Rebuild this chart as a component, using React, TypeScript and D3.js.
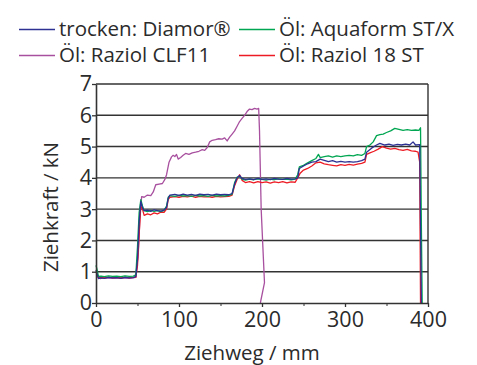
import React, {useEffect, useRef} from "react";
import * as d3 from "d3";

// series: [Ziehweg mm, Ziehkraft kN]
const diamor: [number, number][] = [
  [0, 1.05], [1, 0.95], [3, 0.78], [6, 0.8], [10, 0.79], [15, 0.82], [20, 0.8], [25, 0.81],
  [30, 0.79], [35, 0.82], [40, 0.8], [45, 0.81], [48, 0.85], [50, 1.4], [52, 2.6], [54, 3.25],
  [56, 3.05], [58, 2.95], [62, 2.97], [66, 2.93], [70, 2.98], [74, 2.95], [78, 2.94], [82, 2.97],
  [85, 3.05], [87, 3.35], [89, 3.45], [95, 3.47], [100, 3.44], [105, 3.48], [110, 3.45],
  [115, 3.47], [120, 3.44], [125, 3.48], [130, 3.46], [135, 3.47], [140, 3.45], [145, 3.48],
  [150, 3.46], [155, 3.47], [160, 3.46], [164, 3.5], [167, 3.8], [170, 4.0], [173, 4.08],
  [176, 3.98], [180, 3.95], [185, 3.97], [190, 3.94], [195, 3.98], [200, 3.95], [205, 3.97],
  [210, 3.94], [215, 3.98], [220, 3.96], [225, 3.95], [230, 3.98], [235, 3.96], [240, 3.97],
  [243, 4.0], [245, 4.3], [250, 4.38], [255, 4.45], [260, 4.5], [265, 4.52], [270, 4.6],
  [275, 4.56], [280, 4.52], [285, 4.55], [290, 4.5], [295, 4.53], [300, 4.5], [305, 4.52],
  [310, 4.5], [315, 4.52], [320, 4.55], [324, 4.6], [326, 4.82], [332, 4.95], [338, 5.05],
  [342, 5.1], [348, 5.05], [353, 5.08], [358, 5.04], [363, 5.07], [368, 5.05], [373, 5.08],
  [378, 5.05], [382, 5.15], [385, 5.05], [390, 5.06], [391, 2.5], [392, 0],
];
const aquaform: [number, number][] = [
  [0, 1.2], [1, 1.1], [3, 0.85], [6, 0.86], [10, 0.84], [15, 0.87], [20, 0.85], [25, 0.86],
  [30, 0.84], [35, 0.87], [40, 0.85], [45, 0.86], [48, 0.9], [50, 1.8], [52, 2.9], [54, 3.3],
  [56, 3.1], [58, 2.95], [62, 2.92], [66, 2.96], [70, 2.93], [74, 2.95], [78, 2.92], [82, 2.96],
  [85, 3.1], [87, 3.38], [89, 3.43], [95, 3.41], [100, 3.44], [105, 3.42], [110, 3.43],
  [115, 3.41], [120, 3.44], [125, 3.42], [130, 3.43], [135, 3.41], [140, 3.44], [145, 3.42],
  [150, 3.43], [155, 3.42], [160, 3.44], [164, 3.48], [167, 3.85], [170, 4.02], [173, 4.05],
  [176, 3.96], [180, 3.93], [185, 3.96], [190, 3.94], [195, 3.97], [200, 3.95], [205, 3.93],
  [210, 3.96], [215, 3.94], [220, 3.97], [225, 3.95], [230, 3.96], [235, 3.94], [240, 3.96],
  [243, 4.1], [245, 4.35], [250, 4.4], [255, 4.48], [260, 4.55], [265, 4.62], [268, 4.75],
  [270, 4.65], [275, 4.68], [280, 4.7], [285, 4.66], [290, 4.7], [295, 4.68], [300, 4.7],
  [305, 4.72], [310, 4.7], [315, 4.74], [320, 4.72], [324, 4.78], [326, 5.0], [330, 5.05],
  [334, 5.15], [338, 5.35], [342, 5.38], [346, 5.4], [350, 5.45], [355, 5.5], [360, 5.58],
  [365, 5.55], [370, 5.52], [375, 5.54], [380, 5.52], [385, 5.53], [389, 5.52], [391, 5.6],
  [392, 2.5], [393, 0],
];
const raziol18: [number, number][] = [
  [0, 1.0], [1, 0.95], [3, 0.8], [6, 0.82], [10, 0.8], [15, 0.83], [20, 0.81], [25, 0.82],
  [30, 0.8], [35, 0.83], [40, 0.81], [45, 0.82], [48, 0.83], [50, 1.2], [52, 2.2], [54, 3.1],
  [56, 3.0], [58, 2.8], [62, 2.85], [66, 2.82], [70, 2.88], [74, 2.85], [78, 2.9], [82, 2.9],
  [85, 3.0], [87, 3.3], [89, 3.38], [95, 3.4], [100, 3.38], [105, 3.41], [110, 3.39],
  [115, 3.42], [120, 3.38], [125, 3.41], [130, 3.39], [135, 3.4], [140, 3.38], [145, 3.41],
  [150, 3.39], [155, 3.4], [160, 3.41], [164, 3.45], [167, 3.75], [170, 3.95], [173, 4.1],
  [176, 3.92], [180, 3.85], [185, 3.88], [190, 3.84], [195, 3.88], [200, 3.85], [205, 3.87],
  [210, 3.83], [215, 3.87], [220, 3.85], [225, 3.88], [230, 3.84], [235, 3.87], [240, 3.86],
  [243, 4.0], [246, 4.15], [250, 4.25], [255, 4.3], [260, 4.38], [265, 4.48], [270, 4.5],
  [275, 4.45], [280, 4.42], [285, 4.4], [290, 4.38], [295, 4.42], [300, 4.4], [305, 4.43],
  [310, 4.41], [315, 4.44], [320, 4.46], [324, 4.5], [326, 4.75], [330, 4.8], [335, 4.85],
  [340, 4.92], [345, 5.0], [350, 4.95], [355, 4.92], [360, 4.94], [365, 4.9], [370, 4.88],
  [375, 4.91], [380, 4.86], [385, 4.85], [388, 4.82], [390, 4.5], [391, 0],
];
const raziolClf: [number, number][] = [
  [0, 1.0], [2, 0.85], [5, 0.78], [10, 0.8], [20, 0.79], [30, 0.8], [40, 0.79], [48, 0.82],
  [51, 1.6], [53, 2.8], [55, 3.4], [58, 3.38], [62, 3.45], [66, 3.43], [69, 3.55], [72, 3.78],
  [76, 3.8], [80, 3.82], [83, 3.95], [85, 4.1], [88, 4.5], [91, 4.67], [93, 4.72], [95, 4.68],
  [97, 4.75], [99, 4.6], [102, 4.65], [105, 4.72], [108, 4.78], [112, 4.75], [116, 4.8],
  [120, 4.82], [124, 4.85], [128, 4.9], [131, 4.88], [134, 4.97], [137, 5.15], [140, 5.2],
  [144, 5.22], [148, 5.25], [152, 5.24], [155, 5.28], [158, 5.18], [161, 5.3], [164, 5.4],
  [167, 5.5], [170, 5.65], [173, 5.8], [176, 5.9], [179, 6.0], [182, 6.12], [185, 6.2],
  [188, 6.18], [191, 6.22], [194, 6.2], [196, 6.22], [197, 5.5], [199, 3], [203, 0.65], [198, 0],
];

const labels = ["trocken: Diamor®", "Öl: Aquaform ST/X", "Öl: Raziol CLF11", "Öl: Raziol 18 ST"];
const colors = ["#2e3192", "#00a651", "#a8509f", "#ed1c24"];
const xTicks = [0, 100, 200, 300, 400];
const xMinorTicks = [50, 150, 250, 350];
const yTicks = [0, 1, 2, 3, 4, 5, 6, 7];

export default function App() {
  const ref = useRef<SVGSVGElement>(null);
  const width = 477;
  const height = 365;
  const font = "'Open Sans', sans-serif";
  const ink = "#2b2b2b";

  useEffect(() => {
    const svg = d3.select(ref.current);
    svg.selectAll("*").remove();

    const x = d3.scaleLinear().domain([0, 400]).range([96, 428]);
    const y = d3.scaleLinear().domain([0, 7]).range([303, 84]);

    // grid lines
    svg.append("g").selectAll("line")
      .data(yTicks.filter(d => d > 0))
      .join("line")
      .attr("x1", x(0)).attr("x2", x(400))
      .attr("y1", d => y(d)).attr("y2", d => y(d))
      .attr("stroke", "#333").attr("stroke-width", 1.4);
    // right frame
    svg.append("line")
      .attr("x1", x(400)).attr("x2", x(400))
      .attr("y1", y(0)).attr("y2", y(7))
      .attr("stroke", "#333").attr("stroke-width", 1.4);

    // series
    const line = d3.line<[number, number]>()
      .x(d => x(d[0]))
      .y(d => y(d[1]));
    const series = [
      {data: raziolClf, color: colors[2]},
      {data: raziol18, color: colors[3]},
      {data: aquaform, color: colors[1]},
      {data: diamor, color: colors[0]},
    ];
    svg.append("g").selectAll("path")
      .data(series)
      .join("path")
      .attr("d", d => line(d.data))
      .attr("fill", "none")
      .attr("stroke", d => d.color)
      .attr("stroke-width", 1.3)
      .attr("stroke-linejoin", "round");

    // axes
    const yAxis = svg.append("g")
      .attr("transform", `translate(${x(0)},0)`)
      .call(d3.axisLeft(y).tickValues(yTicks).tickFormat(d3.format("d"))
        .tickSize(4).tickSizeOuter(0).tickPadding(0));
    const xAxis = svg.append("g")
      .attr("transform", `translate(0,${y(0)})`)
      .call(d3.axisBottom(x).tickValues(xTicks).tickSize(4).tickSizeOuter(0).tickPadding(5));
    svg.append("g")
      .attr("transform", `translate(0,${y(0)})`)
      .call(d3.axisBottom(x).tickValues(xMinorTicks).tickSize(3).tickFormat(() => ""))
      .call(g => g.select(".domain").remove())
      .selectAll("line").attr("stroke", "#333");
    for (const a of [xAxis, yAxis]) {
      a.select(".domain").attr("stroke", "#333").attr("stroke-width", 1.6);
      a.selectAll(".tick line").attr("stroke", "#333").attr("stroke-width", 1.3);
      a.selectAll("text")
        .attr("font-family", font)
        .attr("font-size", 21.5)
        .attr("fill", ink);
    }

    // axis titles
    svg.append("text")
      .attr("x", 252).attr("y", 360)
      .attr("text-anchor", "middle")
      .attr("font-family", font).attr("font-size", 20.5).attr("fill", ink)
      .text("Ziehweg / mm");
    svg.append("text")
      .attr("transform", "translate(58,207) rotate(-90)")
      .attr("text-anchor", "middle")
      .attr("font-family", font).attr("font-size", 20.5).attr("fill", ink)
      .text("Ziehkraft / kN");

    // legend
    const legend = svg.append("g").selectAll("g")
      .data(labels)
      .join("g")
      .attr("transform", (d, i) => `translate(${i % 2 === 0 ? 19 : 239},${i < 2 ? 29.5 : 55.5})`);
    legend.append("line")
      .attr("x1", 0).attr("x2", 36)
      .attr("stroke", (d, i) => colors[i])
      .attr("stroke-width", 1.4);
    legend.append("text")
      .attr("x", 40).attr("dy", "0.3em")
      .attr("font-family", font).attr("font-size", 20.5).attr("fill", ink)
      .text(d => d);
  }, []);

  return (
    <div style={{position: "absolute", left: 0, top: 0}}>
      <svg ref={ref} width={width} height={height} style={{display: "block", background: "#fff"}}/>
    </div>
  );
}
